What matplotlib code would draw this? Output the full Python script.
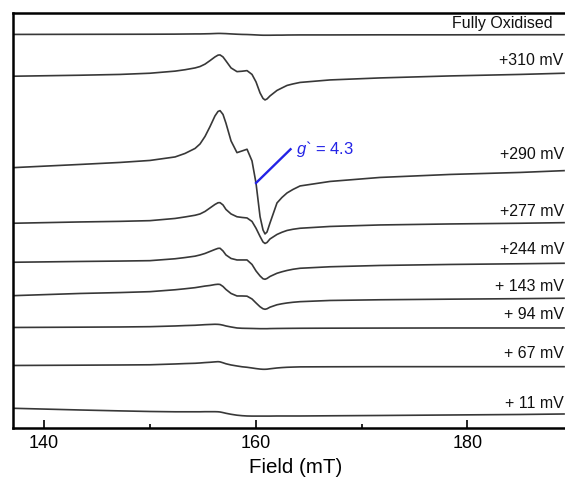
import matplotlib
matplotlib.use('Agg')
import matplotlib.pyplot as plt
from matplotlib.ticker import FixedLocator

plt.rcParams['font.family'] = ['Liberation Sans', 'DejaVu Sans']
plt.rcParams['mathtext.fontset'] = 'custom'
plt.rcParams['mathtext.it'] = 'Liberation Sans:italic'
plt.rcParams['mathtext.rm'] = 'Liberation Sans'

# field axis (mT), sampled densely around the g' = 4.3 feature
field = [137.07, 143.40, 147.18, 150.01, 152.38, 153.32, 154.27, 154.74, 155.21, 155.68,
         156.15, 156.44, 156.63, 156.91, 157.19, 157.67, 158.23, 158.71, 159.18, 159.65,
         160.03, 160.41, 160.69, 160.88, 161.07, 161.35, 162.01, 162.48, 162.96, 163.52,
         164.19, 167.02, 171.74, 178.36, 184.97, 189.13]

# stacked spectra (display units, axis inverted: larger = lower on the page)
oxidised = [34.5, 34.4, 34.35, 34.3, 34.2, 34.1, 34.0, 34.0, 33.9, 33.8,
            33.6, 33.5, 33.5, 33.6, 33.7, 34.0, 34.3, 34.5, 34.6, 34.8,
            35.0, 35.2, 35.3, 35.3, 35.3, 35.3, 35.2, 35.2, 35.1, 35.05,
            35.0, 35.0, 34.9, 34.9, 34.8, 34.8]
mv310 = [76.3, 75.3, 74.5, 73.3, 71.2, 69.8, 68.0, 66.6, 64.2, 60.7,
         57.0, 55.2, 55.0, 57.0, 61.0, 68.0, 71.7, 71.3, 70.7, 74.5,
         82.0, 93.0, 98.5, 100.0, 99.0, 96.0, 90.5, 88.0, 85.5, 84.0,
         82.5, 80.0, 78.0, 76.0, 74.5, 73.3]
mv290 = [167.7, 164.5, 162.5, 160.5, 157.0, 153.5, 148.5, 144.0, 136.5, 126.7,
         116.0, 111.5, 110.7, 114.5, 123.3, 141.0, 152.7, 151.0, 149.3, 161.0,
         183.3, 216.7, 230.0, 234.0, 232.0, 223.0, 203.0, 197.5, 193.0, 189.5,
         186.0, 181.5, 177.5, 174.5, 172.5, 170.7]
mv277 = [223.3, 222.0, 221.4, 220.7, 218.5, 217.0, 215.3, 214.0, 211.5, 208.0,
         204.5, 202.8, 202.7, 205.0, 209.5, 214.0, 216.8, 217.5, 218.0, 221.5,
         228.3, 236.5, 242.0, 243.5, 242.5, 239.0, 234.5, 232.3, 230.5, 229.3,
         228.3, 226.5, 225.0, 224.0, 223.3, 222.7]
mv244 = [262.3, 261.5, 261.1, 260.7, 258.8, 257.6, 256.2, 255.0, 253.5, 251.5,
         249.5, 248.4, 248.3, 251.0, 255.0, 258.5, 260.0, 260.0, 260.0, 264.5,
         271.0, 276.0, 278.8, 279.3, 278.5, 276.5, 273.3, 271.8, 270.5, 269.3,
         268.3, 266.8, 265.5, 264.5, 263.8, 263.3]
mv143 = [295.7, 293.5, 292.6, 291.7, 289.8, 288.8, 287.7, 286.9, 286.1, 285.5,
         284.6, 284.3, 284.5, 286.5, 289.5, 293.5, 296.0, 296.0, 296.2, 299.0,
         303.0, 306.8, 308.8, 309.3, 308.8, 307.2, 304.8, 303.8, 303.0, 302.3,
         301.7, 300.5, 299.8, 299.2, 298.7, 298.3]
mv94 = [327.5, 327.2, 327.0, 326.7, 326.0, 325.6, 325.3, 325.0, 324.7, 324.5,
        324.3, 324.4, 324.6, 325.2, 326.0, 327.0, 328.0, 328.3, 328.4, 328.5,
        328.6, 328.7, 328.7, 328.7, 328.7, 328.6, 328.5, 328.45, 328.4, 328.35,
        328.3, 328.2, 328.1, 328.0, 328.0, 328.0]
mv67 = [365.5, 365.2, 365.0, 364.8, 364.0, 363.6, 363.3, 363.0, 362.6, 362.3,
        361.9, 361.7, 361.9, 362.8, 363.8, 365.0, 366.0, 366.8, 367.3, 368.0,
        368.6, 369.1, 369.3, 369.3, 369.2, 368.8, 368.0, 367.6, 367.3, 367.1,
        366.9, 366.8, 366.7, 366.7, 366.7, 366.7]
mv11 = [408.3, 410.0, 410.9, 411.5, 411.8, 411.8, 411.8, 411.8, 411.7, 411.7,
        411.7, 411.8, 412.0, 412.6, 413.3, 414.3, 415.2, 415.7, 416.0, 416.1,
        416.1, 416.1, 416.1, 416.1, 416.1, 416.1, 416.0, 416.0, 416.0, 416.0,
        416.0, 415.8, 415.5, 415.0, 414.5, 414.0]

traces = [oxidised, mv310, mv290, mv277, mv244, mv143, mv94, mv67, mv11]
labels = ['Fully Oxidised', '+310 mV', '+290 mV', '+277 mV', '+244 mV',
          '+ 143 mV', '+ 94 mV', '+ 67 mV', '+ 11 mV']
label_y = [23.5, 60.5, 155, 211.5, 250, 286.5, 315, 354, 403.5]
label_x = [0.978, 0.996, 0.998, 0.998, 0.998, 0.998, 0.998, 0.998, 0.998]

fig = plt.figure(figsize=(5.65, 4.78), dpi=100)
ax = fig.add_axes([13/565, 0.104, 552/565, 0.8696])

for tr in traces:
    ax.plot(field, tr, color='#383838', lw=1.2)

for lab, lx, ly in zip(labels, label_x, label_y):
    ax.text(lx, ly, lab, transform=ax.get_yaxis_transform(),
            ha='right', va='center', fontsize=11.5, color='#111111')

# g' = 4.3 marker
blue = '#2323e6'
ax.plot([160.03, 163.29], [183.0, 149.3], color=blue, lw=1.7)
ax.text(163.85, 149, r"$g$` = 4.3", color=blue, fontsize=12, ha='left', va='center')

ax.set_xlim(137.07, 189.22)
ax.set_ylim(428.3, 12.7)
ax.set_yticks([])
ax.xaxis.set_major_locator(FixedLocator([140, 160, 180]))
ax.xaxis.set_minor_locator(FixedLocator([150, 170]))
ax.tick_params(axis='x', which='major', direction='in', length=6, width=1.2,
               labelsize=13, pad=5, top=False)
ax.tick_params(axis='x', which='minor', direction='in', length=3, width=1.2, top=False)
ax.spines['right'].set_visible(False)
for s in ['left', 'bottom', 'top']:
    ax.spines[s].set_linewidth(1.8)
ax.set_xlabel('Field (mT)', fontsize=14.8)
ax.xaxis.set_label_coords(0.512, -0.071)

fig.savefig('out.png', dpi=100)
